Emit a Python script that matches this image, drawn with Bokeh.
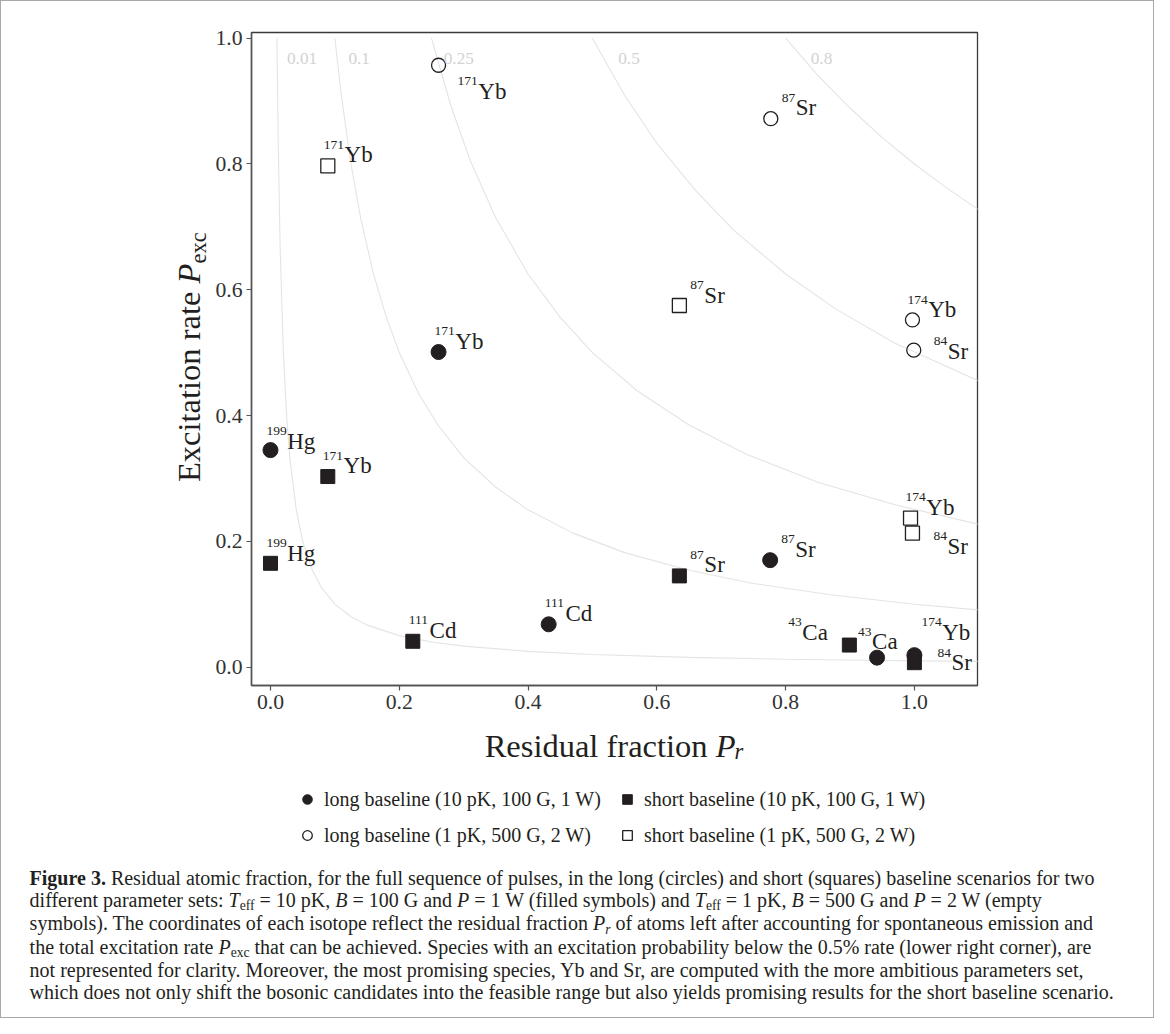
from bokeh.plotting import figure
from bokeh.models import (ColumnDataSource, Label, Legend, LegendItem, Div,
                          Range1d, FixedTicker, CustomJSTickFormatter)
from bokeh.layouts import column, row
from bokeh.embed import file_html
from bokeh.resources import INLINE
from bokeh.core.properties import value

# ------------------------------------------------------------------ data
# long baseline (10 pK, 100 G, 1 W) -> filled circles
lb1_mass = ["199", "171", "111", "87", "43", "174"]
lb1_elem = ["Hg", "Yb", "Cd", "Sr", "Ca", "Yb"]
lb1_pr = [0.000, 0.261, 0.432, 0.776, 0.942, 1.000]
lb1_pexc = [0.345, 0.501, 0.068, 0.170, 0.015, 0.019]

# short baseline (10 pK, 100 G, 1 W) -> filled squares
sb1_mass = ["199", "171", "111", "87", "43", "84"]
sb1_elem = ["Hg", "Yb", "Cd", "Sr", "Ca", "Sr"]
sb1_pr = [0.000, 0.089, 0.221, 0.635, 0.899, 1.000]
sb1_pexc = [0.165, 0.303, 0.041, 0.145, 0.035, 0.007]

# long baseline (1 pK, 500 G, 2 W) -> open circles
lb2_mass = ["171", "87", "174", "84"]
lb2_elem = ["Yb", "Sr", "Yb", "Sr"]
lb2_pr = [0.261, 0.777, 0.997, 0.999]
lb2_pexc = [0.957, 0.872, 0.552, 0.504]

# short baseline (1 pK, 500 G, 2 W) -> open squares
sb2_mass = ["171", "87", "174", "84"]
sb2_elem = ["Yb", "Sr", "Yb", "Sr"]
sb2_pr = [0.089, 0.635, 0.994, 0.997]
sb2_pexc = [0.797, 0.575, 0.237, 0.213]

# iso-lines of the figure of merit
iso_levels = ["0.01", "0.1", "0.25", "0.5", "0.8"]
iso_x = [
    [0.010, 0.012, 0.015, 0.020, 0.025, 0.030, 0.040, 0.050, 0.065, 0.080, 0.100,
     0.125, 0.150, 0.200, 0.250, 0.300, 0.400, 0.500, 0.650, 0.800, 0.950, 1.100],
    [0.100, 0.110, 0.125, 0.140, 0.160, 0.180, 0.200, 0.230, 0.260, 0.300, 0.350,
     0.400, 0.470, 0.550, 0.650, 0.750, 0.870, 1.000, 1.100],
    [0.250, 0.280, 0.310, 0.350, 0.400, 0.450, 0.500, 0.570, 0.650, 0.740, 0.850,
     0.970, 1.100],
    [0.500, 0.550, 0.600, 0.660, 0.720, 0.800, 0.880, 0.970, 1.100],
    [0.800, 0.850, 0.900, 0.950, 1.000, 1.050, 1.100],
]
iso_y = [
    [1.000, 0.833, 0.667, 0.500, 0.400, 0.333, 0.250, 0.200, 0.154, 0.125, 0.100,
     0.080, 0.0667, 0.050, 0.040, 0.0333, 0.025, 0.020, 0.0154, 0.0125, 0.0105, 0.0091],
    [1.000, 0.909, 0.800, 0.714, 0.625, 0.556, 0.500, 0.435, 0.385, 0.333, 0.286,
     0.250, 0.213, 0.182, 0.154, 0.133, 0.115, 0.100, 0.0909],
    [1.000, 0.893, 0.806, 0.714, 0.625, 0.556, 0.500, 0.439, 0.385, 0.338, 0.294,
     0.258, 0.227],
    [1.000, 0.909, 0.833, 0.758, 0.694, 0.625, 0.568, 0.515, 0.455],
    [1.000, 0.941, 0.889, 0.842, 0.800, 0.762, 0.727],
]

x_ticks = [0.0, 0.2, 0.4, 0.6, 0.8, 1.0]
y_ticks = [0.0, 0.2, 0.4, 0.6, 0.8, 1.0]

legend_labels = ["long baseline (10 pK, 100 G, 1 W)",
                 "short baseline (10 pK, 100 G, 1 W)",
                 "long baseline (1 pK, 500 G, 2 W)",
                 "short baseline (1 pK, 500 G, 2 W)"]

# ------------------------------------------------------------------ layout / style
FONT = "Liberation Serif"
INK = "#231f20"
ISO_LINE = "#e4e4e4"
ISO_TEXT = "#d2d2d2"

# pixel offsets of each label (superscript start, baseline) relative to its point
lb1_off = [(-4, -9), (-4, -11), (-4, -11), (11, -11), (-19, -16), (7, -23)]
sb1_off = [(-4, -10), (-5, -11), (-4, -11), (11, -11), (-61, -13), (23, 0)]
lb2_off = [(19, 26), (11, -11), (-5, -10), (20, 1)]
sb2_off = [(-4, -11), (11, -10), (-5, -11), (21, 13)]
iso_label_pos = [(0.0256, 0.968), (0.121, 0.968), (0.269, 0.968),
                 (0.540, 0.968), (0.839, 0.968)]

SUP_SIZE = 13.5
ELEM_SIZE = 23
DIGIT_W = 6.75
SUP_RAISE = 10
TITLE = 32.5
SUB = 22.5

# whole bordered box: 1154 x 1018 on the page (8px page margin, 1px border)
W = 1152
TOP = 9
SX = 1154 / 1170
SY = 1018 / 1034


def PX(rx):          # reference-image x -> page x
    return 8 + rx * SX


def PY(ry):          # reference-image y -> page y
    return 8 + ry * SY


FRAME_L, FRAME_R = PX(254), PX(991)
FRAME_T, FRAME_B = PY(32.7), PY(695.7)

FY_W = 207        # width of the y-title strip
HP = 720          # height of the main plot row
HB = 130          # height of the x-title / legend strip
HC = 1016 - HP - HB


def blank_fig(w, h):
    f = figure(width=w, height=h, output_backend="svg", toolbar_location=None,
               x_range=Range1d(0, w), y_range=Range1d(0, h),
               min_border=0, min_border_left=0, min_border_right=0,
               min_border_top=0, min_border_bottom=0)
    f.axis.visible = False
    f.grid.visible = False
    f.outline_line_color = None
    f.background_fill_color = "white"
    f.border_fill_color = "white"
    return f


def lbl(fig, text, x, y, size, style="normal"):
    fig.add_layout(Label(x=x, y=y, text=text, text_font=FONT,
                         text_font_size=f"{size}px", text_font_style=style,
                         text_color=INK, text_baseline="alphabetic", text_align="left"))


# ------------------------------------------------------------------ main plot
PW = W - FY_W
P_LEFT = TOP + FY_W
p = figure(width=PW, height=HP, output_backend="svg", toolbar_location=None,
           x_range=Range1d(-0.0295, 1.098), y_range=Range1d(-0.0293, 1.0091),
           min_border_left=round(FRAME_L - P_LEFT),
           min_border_right=round(PW - (FRAME_R - P_LEFT)),
           min_border_top=round(FRAME_T - TOP),
           min_border_bottom=round(HP - (FRAME_B - TOP)))
p.grid.visible = False
p.background_fill_color = "white"
p.border_fill_color = "white"
p.outline_line_color = "#3a3a3a"
p.outline_line_width = 1.3

for ax, ticks in ((p.xaxis[0], x_ticks), (p.yaxis[0], y_ticks)):
    ax.ticker = FixedTicker(ticks=ticks)
    ax.formatter = CustomJSTickFormatter(code="return tick.toFixed(1);")
    ax.minor_tick_line_color = None
    ax.major_tick_in = 0
    ax.major_tick_out = 5
    ax.major_tick_line_color = "#555555"
    ax.major_tick_line_width = 1.2
    ax.axis_line_color = "#555555"
    ax.axis_line_width = 1.5
    ax.major_label_text_font = FONT
    ax.major_label_text_font_size = "21.7px"
    ax.major_label_text_color = "#333333"
    ax.major_label_standoff = 4

for xs, ys in zip(iso_x, iso_y):
    p.line(xs, ys, line_color=ISO_LINE, line_width=1.1)
for lev, (lx, ly) in zip(iso_levels, iso_label_pos):
    p.add_layout(Label(x=lx, y=ly, text=lev, text_font=FONT, text_font_size="17.3px",
                       text_color=ISO_TEXT, text_baseline="alphabetic", text_align="left"))


def make_source(xs, ys, mass, elem, off):
    return ColumnDataSource(dict(
        x=xs, y=ys, mass=mass, elem=elem,
        sdx=[o[0] for o in off],
        sdy=[o[1] - SUP_RAISE for o in off],
        edx=[o[0] + DIGIT_W * len(m) + 0.5 for o, m in zip(off, mass)],
        edy=[o[1] for o in off],
    ))


s_lb1 = make_source(lb1_pr, lb1_pexc, lb1_mass, lb1_elem, lb1_off)
s_sb1 = make_source(sb1_pr, sb1_pexc, sb1_mass, sb1_elem, sb1_off)
s_lb2 = make_source(lb2_pr, lb2_pexc, lb2_mass, lb2_elem, lb2_off)
s_sb2 = make_source(sb2_pr, sb2_pexc, sb2_mass, sb2_elem, sb2_off)
SOURCES = (s_lb1, s_sb1, s_lb2, s_sb2)

STYLES = [dict(marker="circle", size=15, fill_color=INK, line_color=INK, line_width=1),
          dict(marker="square", size=14, fill_color=INK, line_color=INK, line_width=1),
          dict(marker="circle", size=14, fill_alpha=0, line_color=INK, line_width=1.3),
          dict(marker="square", size=14, fill_alpha=0, line_color=INK, line_width=1.3)]

for src, st in zip(SOURCES, STYLES):
    p.scatter("x", "y", source=src, **st)

for src in SOURCES:
    p.text("x", "y", text="mass", source=src, x_offset="sdx", y_offset="sdy",
           text_font=value(FONT), text_font_size=f"{SUP_SIZE}px", text_color=INK,
           text_baseline="alphabetic", text_align="left")
    p.text("x", "y", text="elem", source=src, x_offset="edx", y_offset="edy",
           text_font=value(FONT), text_font_size=f"{ELEM_SIZE}px", text_color=INK,
           text_baseline="alphabetic", text_align="left")

# ------------------------------------------------------------------ y title strip (HTML, rotated)
BASE_IN_BOX = 0.8375 * TITLE      # baseline depth inside a 1em line box
yt_left = PX(202.7) - BASE_IN_BOX - TOP
yt_top = PY(490.0) - TOP
fy = Div(width=FY_W, height=HP, margin=0, text=f"""
<div style="position:relative; width:{FY_W}px; height:{HP}px; overflow:visible;">
 <div style="position:absolute; left:{yt_left:.1f}px; top:{yt_top:.1f}px;
             transform-origin:0 0; transform:rotate(-90deg); white-space:nowrap;
             font-family:'{FONT}'; font-size:{TITLE}px; line-height:{TITLE}px; color:{INK};">
 Excitation rate <i>P</i><span style="font-size:{SUB}px; position:relative; top:6px;">exc</span>
 </div>
</div>""")

# ------------------------------------------------------------------ x title + legend strip
fb = blank_fig(W, HB)
B_TOP = TOP + HP
B_BOTTOM = B_TOP + HB
w1 = 7.11 * TITLE
w2 = 0.611 * TITLE
w3 = 0.389 * SUB
xt = (FRAME_L + FRAME_R) / 2 - (w1 + w2 + w3) / 2 - TOP
yt = B_BOTTOM - PY(757.0)
lbl(fb, "Residual fraction", xt, yt, TITLE)
lbl(fb, "P", xt + w1, yt, TITLE, "italic")
lbl(fb, "r", xt + w1 + w2 - 1, yt - 6, SUB, "italic")

# legend keys: same series, hidden in this strip (only their legend glyphs show)
keys = []
for src, st in zip(SOURCES, STYLES):
    k = fb.scatter("x", "y", source=src, **st)
    k.visible = False
    keys.append(k)
legend = Legend(items=[LegendItem(label=legend_labels[i], renderers=[keys[i]]) for i in range(4)],
                orientation="horizontal", ncols=2,
                location=(round(PX(311) - 12 - TOP), round(B_BOTTOM - (PY(848) + 12))),
                label_text_font=FONT, label_text_font_size="20px",
                label_text_color=INK, glyph_width=24, glyph_height=24,
                label_height=24, label_width=279, label_standoff=5, spacing=12,
                padding=0, margin=0, border_line_color=None, background_fill_alpha=0,
                inactive_fill_alpha=0)
fb.add_layout(legend, "center")

# ------------------------------------------------------------------ caption
SUBSTYLE = "font-size:68%; position:relative; top:0.25em;"
cap_pad_left = PX(30) - TOP
cap_pad_top = PY(893) - B_BOTTOM - 10.75
caption = Div(width=W, height=HC, margin=0, text=f"""
<div style="font-family:'{FONT}'; font-size:20px; line-height:21.5px; color:{INK};
            white-space:nowrap; padding:{cap_pad_top:.1f}px 0 0 {cap_pad_left:.1f}px;">
<b>Figure 3.</b> Residual atomic fraction, for the full sequence of pulses, in the long (circles) and short (squares) baseline scenarios for two<br>
different parameter sets: <i>T</i><span style="{SUBSTYLE}">eff</span> = 10 pK, <i>B</i> = 100 G and <i>P</i> = 1 W (filled symbols) and <i>T</i><span style="{SUBSTYLE}">eff</span> = 1 pK, <i>B</i> = 500 G and <i>P</i> = 2 W (empty<br>
symbols). The coordinates of each isotope reflect the residual fraction <i>P<span style="{SUBSTYLE}">r</span></i> of atoms left after accounting for spontaneous emission and<br>
the total excitation rate <i>P</i><span style="{SUBSTYLE}">exc</span> that can be achieved. Species with an excitation probability below the 0.5% rate (lower right corner), are<br>
not represented for clarity. Moreover, the most promising species, Yb and Sr, are computed with the more ambitious parameters set,<br>
which does not only shift the bosonic candidates into the feasible range but also yields promising results for the short baseline scenario.
</div>""")

layout = column(row(fy, p), fb, caption, styles={"border": "1px solid #a8a8a8"})
open("out.html", "w").write(file_html(layout, INLINE))
